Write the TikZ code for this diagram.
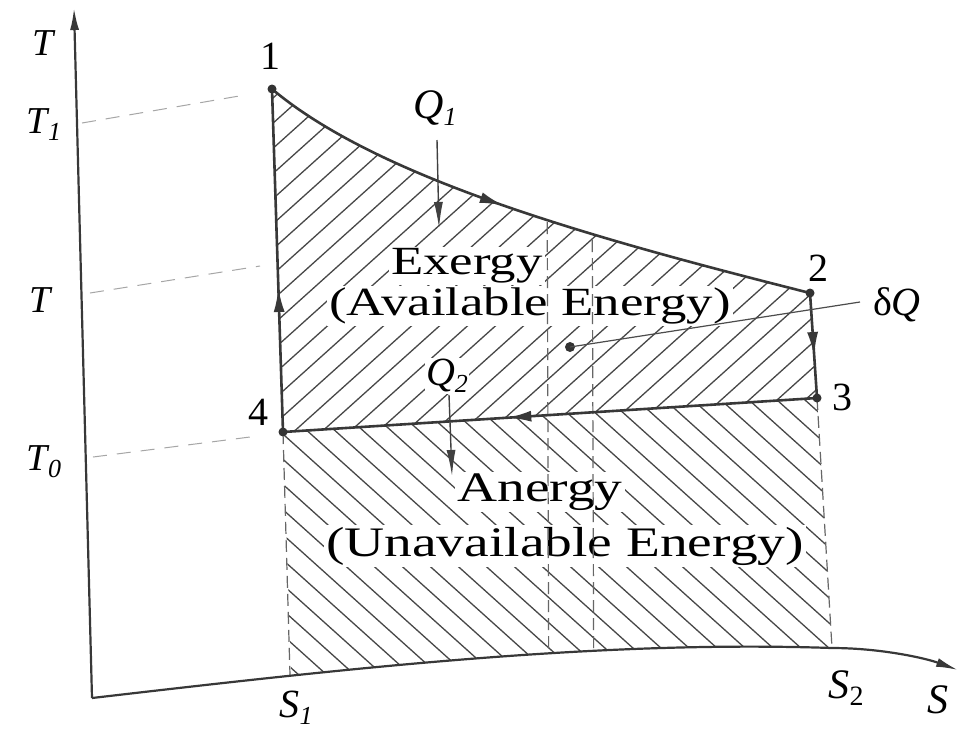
\documentclass[tikz,border=0pt]{standalone}
\usepackage{fontspec}
\setmainfont{Liberation Serif}
\usetikzlibrary{arrows.meta,decorations.markings}
\newcommand{\mysub}[1]{\raisebox{-0.4ex}{\fontsize{26}{28}\selectfont\itshape #1}}
\newcommand{\wide}[1]{\scalebox{1.32}[1]{#1}}
\begin{document}
\begin{tikzpicture}[x=1pt,y=-1pt,
  cyc/.style={draw=black!78, line width=2.6pt},
  axisline/.style={draw=black!78, line width=2.2pt},
  hatch/.style={draw=black!72, line width=1.3pt},
  guide/.style={draw=black!60, line width=1.2pt, dash pattern=on 12pt off 6pt},
  faint/.style={draw=black!35, line width=1pt, dash pattern=on 14pt off 10pt},
  midarrow/.style={postaction={decorate},decoration={markings,mark=at position #1 with {\arrow{Latex[length=24pt,width=11pt]}}}},
  big/.style={inner sep=1pt, font=\fontsize{40}{44}\selectfont},
  bigger/.style={inner sep=1pt, font=\fontsize{42}{46}\selectfont},
  textbox/.style={fill=white, inner sep=2pt},
  axlab/.style={inner sep=0pt, font=\fontsize{38}{40}\selectfont\itshape},
  numlab/.style={inner sep=0pt, font=\fontsize{40}{42}\selectfont},
  dot/.style={fill=black!80}
]
\fill[white] (0,0) rectangle (965,732);
\useasboundingbox (0,0) rectangle (965,732);

% key points
\coordinate (p1) at (272,89);
\coordinate (p2) at (810,293);
\coordinate (p3) at (817,398);
\coordinate (p4) at (283,432);
\coordinate (o) at (92,698);
\coordinate (ttop) at (74,8);
\coordinate (s1b) at (290,675);
\coordinate (s2b) at (832,648);
\coordinate (send) at (958,670);

% upper hatch (exergy)
\begin{scope}
  \clip (p1) .. controls (380,180) and (600,240) .. (p2) -- (p3) -- (p4) -- cycle;
  \foreach \a in {-900,-872,...,1000} \draw[hatch] (\a,800) -- ++(890,-800);
\end{scope}
% lower hatch (anergy)
\begin{scope}
  \clip (p4) -- (p3) -- (s2b) -- (834,760) -- (294,760) -- cycle;
  \clip (o) .. controls (350,668) and (600,640) .. (s2b) -- (965,648) -- (965,0) -- (0,0) -- (0,698) -- cycle;
  \foreach \a in {-900,-872,...,1000} \draw[hatch] (\a,0) -- ++(890,800);
\end{scope}

% region labels
\node[big,textbox] (ex) at (467,266) {\wide{Exergy}};
\node[big,textbox] (av) at (530,306) {\wide{(Available Energy)}};
\node[bigger,textbox] (an) at (540,492) {\wide{Anergy}};
\node[bigger,textbox] (un) at (565,546) {\wide{(Unavailable Energy)}};

% dashed verticals
\begin{scope}
  \clip (p1) .. controls (380,180) and (600,240) .. (p2) -- (p3) -- (s2b) -- (834,760) -- (294,760) -- (p4) -- cycle;
  \clip (o) .. controls (350,668) and (600,640) .. (s2b) -- (965,648) -- (965,0) -- (0,0) -- (0,698) -- cycle;
  \draw[guide] (547,150) -- (549,760);
  \draw[guide] (592,150) -- (594,760);
\end{scope}
\draw[guide] (p4) -- (s1b);
\draw[guide] (p3) -- (s2b);

% level guides
\coordinate (t1a) at (82,123);  \coordinate (t1b) at (245,95);
\coordinate (tma) at (90,293);  \coordinate (tmb) at (260,266);
\coordinate (t0a) at (93,457);  \coordinate (t0b) at (250,437);
\draw[faint] (t1a) -- (t1b);
\draw[faint] (tma) -- (tmb);
\draw[faint] (t0a) -- (t0b);

% axes
\draw[axisline, -{Latex[length=22pt,width=9pt]}] (o) -- (ttop);
\draw[axisline, -{Latex[length=22pt,width=9pt]}] (o) .. controls (350,668) and (600,640) .. (s2b) .. controls (880,648) and (925,658) .. (send);

% cycle
\draw[cyc, midarrow=0.42] (p4) -- (p1);
\draw[cyc, midarrow=0.45] (p1) .. controls (380,180) and (600,240) .. (p2);
\draw[cyc, midarrow=0.6] (p2) -- (p3);
\draw[cyc, midarrow=0.58] (p3) -- (p4);
\foreach \p in {p1,p2,p3,p4} \fill[dot] (\p) circle (4.5pt);

% heat arrows
\coordinate (q1a) at (437,140); \coordinate (q1b) at (439,228);
\coordinate (q2a) at (449,395); \coordinate (q2b) at (452,476);
\draw[draw=black!75, line width=1.4pt, -{Latex[length=26pt,width=9pt]}] (q1a) -- (q1b);
\draw[draw=black!75, line width=1.4pt, -{Latex[length=26pt,width=9pt]}] (q2a) -- (q2b);

% delta Q element
\coordinate (dq) at (570,347);
\coordinate (dqe) at (860,302);
\fill[dot] (dq) circle (5pt);
\draw[draw=black!70, line width=1.2pt] (dq) -- (dqe);

% labels
\node[axlab] (lT) at (43,43) {T};
\node[axlab] (lT1) at (44,125) {T\mysub{1}};
\node[axlab] (lTm) at (40,300) {T};
\node[axlab] (lT0) at (44,462) {T\mysub{0}};
\node[numlab] (n1) at (270,56) {1};
\node[numlab] (n2) at (818,268) {2};
\node[numlab] (n3) at (842,397) {3};
\node[numlab] (n4) at (258,412) {4};
\node[axlab, font=\fontsize{42}{44}\selectfont\itshape] (lq1) at (435,108) {Q\mysub{1}};
\node[axlab, font=\fontsize{40}{44}\selectfont\itshape, fill=white, inner sep=1pt] (lq2) at (447,376) {Q\mysub{2}};
\node[axlab, font=\fontsize{40}{44}\selectfont] (ldq) at (897,305) {δ\textit{Q}};
\node[axlab, font=\fontsize{40}{42}\selectfont\itshape] (ls1) at (296,708) {S\mysub{1}};
\node[axlab, font=\fontsize{42}{46}\selectfont\itshape] (ls2) at (846,688) {S\raisebox{-0.4ex}{\fontsize{28}{30}\selectfont\upshape 2}};
\node[axlab, font=\fontsize{42}{46}\selectfont\itshape] (ls) at (938,700) {S};
\end{tikzpicture}
\end{document}
